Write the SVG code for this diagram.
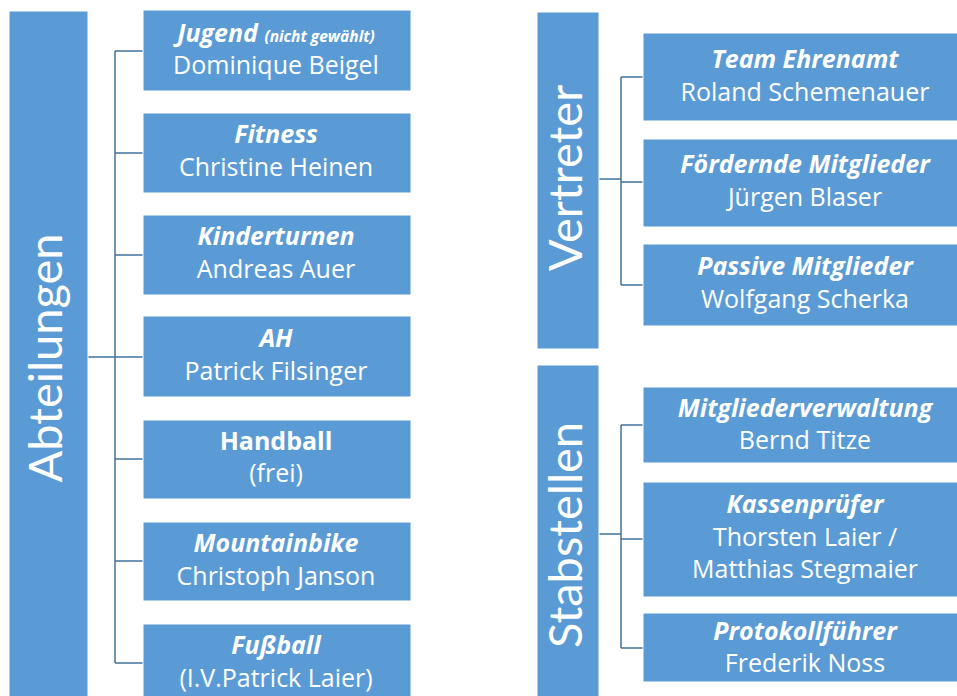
<svg xmlns="http://www.w3.org/2000/svg" width="957" height="696" viewBox="0 0 957 696">
<style>
.box{fill:#5B9BD5;stroke:#ffffff;stroke-width:1}
.con{fill:none;stroke:#41719C;stroke-width:1.5}
text{font-family:"Open Sans",Lato,sans-serif;fill:#ffffff;text-anchor:middle}
.t{font-weight:bold;font-style:italic;font-size:25px}
.up{font-style:normal}
.n{font-size:25px}
.s{font-size:15.5px}
.v{font-family:Lato,"Open Sans",sans-serif;font-size:47px}
</style>
<rect width="957" height="696" fill="#ffffff"/>
<g id="connectors">
<path class="con" d="M88,357 H115 M115,51 V663 M115,51 H143 M115,153 H143 M115,255 H143 M115,357 H143 M115,459 H143 M115,561 H143 M115,663 H143"/>
<path class="con" d="M599,179 H621 M621,77 V285 M621,77 H643 M621,182 H643 M621,285 H643"/>
<path class="con" d="M599,534 H621 M621,425 V648 M621,425 H643 M621,539 H643 M621,648 H643"/>
</g>
<g id="abteilungen"><rect class="box" x="9" y="11" width="79" height="700"/><text class="v" transform="translate(62,358) rotate(-90)">Abteilungen</text></g>
<g id="jugend"><rect class="box" x="143" y="10" width="268" height="81"/><text class="t" x="276" y="42">Jugend <tspan class="s">(nicht gewählt)</tspan></text><text class="n" x="276" y="74">Dominique Beigel</text></g>
<g id="fitness"><rect class="box" x="143" y="113" width="268" height="80"/><text class="t" x="276" y="143">Fitness</text><text class="n" x="276" y="176">Christine Heinen</text></g>
<g id="kinderturnen"><rect class="box" x="143" y="215" width="268" height="80"/><text class="t" x="276" y="245">Kinderturnen</text><text class="n" x="276" y="278">Andreas Auer</text></g>
<g id="ah"><rect class="box" x="143" y="316" width="268" height="81"/><text class="t" x="276" y="347">AH</text><text class="n" x="276" y="380">Patrick Filsinger</text></g>
<g id="handball"><rect class="box" x="143" y="420" width="268" height="79"/><text class="t up" x="276" y="450">Handball</text><text class="n" x="276" y="482">(frei)</text></g>
<g id="mountainbike"><rect class="box" x="143" y="522" width="268" height="79"/><text class="t" x="276" y="552">Mountainbike</text><text class="n" x="276" y="585">Christoph Janson</text></g>
<g id="fussball"><rect class="box" x="143" y="624" width="268" height="80"/><text class="t" x="276" y="654">Fußball</text><text class="n" x="276" y="687">(I.V.Patrick Laier)</text></g>
<g id="vertreter"><rect class="box" x="537" y="12" width="62" height="337"/><text class="v" transform="translate(582,178) rotate(-90)">Vertreter</text></g>
<g id="ehrenamt"><rect class="box" x="643" y="33" width="325" height="88"/><text class="t" x="805" y="68">Team Ehrenamt</text><text class="n" x="805" y="101">Roland Schemenauer</text></g>
<g id="foerdernde"><rect class="box" x="643" y="139" width="325" height="88"/><text class="t" x="805" y="173">Fördernde Mitglieder</text><text class="n" x="805" y="206">Jürgen Blaser</text></g>
<g id="passive"><rect class="box" x="643" y="244" width="325" height="82"/><text class="t" x="805" y="275">Passive Mitglieder</text><text class="n" x="805" y="308">Wolfgang Scherka</text></g>
<g id="stabstellen"><rect class="box" x="537" y="365" width="62" height="340"/><text class="v" transform="translate(582,535) rotate(-90)">Stabstellen</text></g>
<g id="mitgliederverwaltung"><rect class="box" x="643" y="387" width="325" height="76"/><text class="t" x="805" y="417">Mitgliederverwaltung</text><text class="n" x="805" y="449">Bernd Titze</text></g>
<g id="kassenpruefer"><rect class="box" x="643" y="482" width="325" height="115"/><text class="t" x="805" y="513">Kassenprüfer</text><text class="n" x="805" y="546">Thorsten Laier /</text><text class="n" x="805" y="578">Matthias Stegmaier</text></g>
<g id="protokoll"><rect class="box" x="643" y="613" width="325" height="69"/><text class="t" x="805" y="640">Protokollführer</text><text class="n" x="805" y="672">Frederik Noss</text></g>
</svg>
